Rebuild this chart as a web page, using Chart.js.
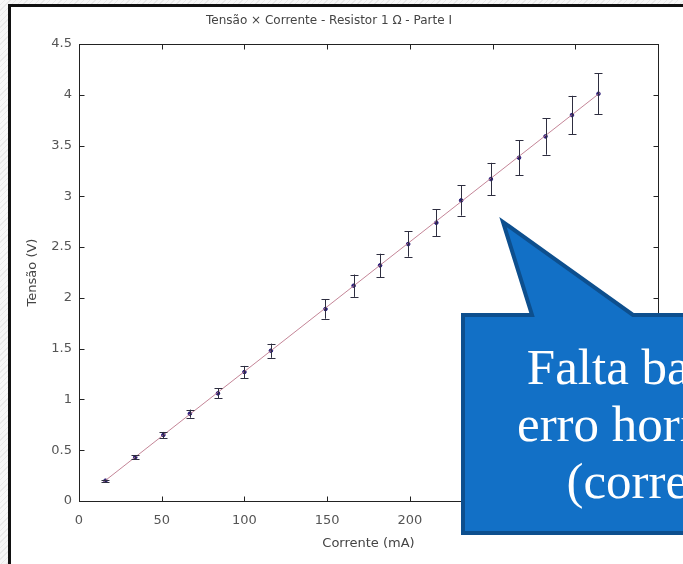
<!DOCTYPE html>
<html>
<head>
<meta charset="utf-8">
<script src="https://cdn.jsdelivr.net/npm/chart.js@4.4.0/dist/chart.umd.min.js"></script>
<style>
  html, body { margin: 0; padding: 0; }
  body {
    width: 683px; height: 564px; overflow: hidden; position: relative;
    background: repeating-linear-gradient(135deg, #f7f7f7 0 3px, #e9e9e9 3px 4px);
  }
  #frame {
    position: absolute; left: 8px; top: 4px; width: 700px; height: 600px;
    border-left: 3px solid #111; border-top: 3px solid #111; background: #fff;
  }
  #wrap { position: absolute; left: 0; top: 0; width: 683px; height: 564px; }
  #callout { position: absolute; left: 0; top: 0; width: 683px; height: 564px; pointer-events: none; }
  #calloutText {
    position: absolute; left: 517px; top: 339px; width: 300px;
    text-align: center; white-space: nowrap; color: #fff;
    font-family: "Liberation Serif", "DejaVu Serif", serif; font-size: 51px; line-height: 57px;
  }
</style>
</head>
<body>
<div id="frame"></div>
<div id="wrap"><canvas id="chart" width="683" height="564"></canvas></div>
<svg id="callout" width="683" height="564">
  <path d="M463 315 L532 315 L503 222 L633 315 L700 315 L700 533 L463 533 Z"
        fill="#1270c6" stroke="#0d4f8e" stroke-width="4" stroke-linejoin="miter"/>
</svg>
<div id="calloutText">Falta barra de<br>erro horizontal<br>(corrente)</div>
<script>
const corrente = [16, 34, 51, 67, 84, 100, 116, 149, 166, 182, 199, 216, 231, 249, 266, 282, 298, 314];
const tensao = [0.20, 0.43, 0.65, 0.86, 1.06, 1.27, 1.48, 1.89, 2.12, 2.32, 2.53, 2.74, 2.96, 3.17, 3.38, 3.59, 3.80, 4.01];
const erroTensao = [0.01, 0.02, 0.03, 0.04, 0.05, 0.06, 0.07, 0.095, 0.11, 0.115, 0.125, 0.135, 0.15, 0.16, 0.17, 0.18, 0.19, 0.2];

// Reta ajustada
const ajusteCorrente = [15, 315];
const ajusteTensao = [0.19, 4.02];

const xTicks = [0, 50, 100, 150, 200, 250, 300, 350];
const yTicks = [0, 0.5, 1, 1.5, 2, 2.5, 3, 3.5, 4, 4.5];

const tickFont = { family: 'DejaVu Sans, sans-serif', size: 13 };

// Barras de erro verticais
const errorBarsPlugin = {
    id: 'errorBars',
    afterDatasetsDraw: function(chart) {
        const ctx = chart.ctx;
        const xs = chart.scales.x, ys = chart.scales.y;
        ctx.save();
        ctx.strokeStyle = '#2e2e40';
        ctx.lineWidth = 1;
        corrente.forEach((c, i) => {
            const px = Math.round(xs.getPixelForValue(c)) + 0.5;
            const top = ys.getPixelForValue(tensao[i] + erroTensao[i]);
            const bot = ys.getPixelForValue(tensao[i] - erroTensao[i]);
            ctx.beginPath();
            ctx.moveTo(px, top); ctx.lineTo(px, bot);
            ctx.moveTo(px - 4, Math.round(top) + 0.5); ctx.lineTo(px + 4, Math.round(top) + 0.5);
            ctx.moveTo(px - 4, Math.round(bot) + 0.5); ctx.lineTo(px + 4, Math.round(bot) + 0.5);
            ctx.stroke();
        });
        ctx.restore();
    }
};

// Caixa estilo MATLAB com marcas para dentro
const boxPlugin = {
    id: 'matlabBox',
    afterDraw: function(chart) {
        const ctx = chart.ctx;
        const a = chart.chartArea;
        const xs = chart.scales.x, ys = chart.scales.y;
        ctx.save();
        ctx.strokeStyle = '#222';
        ctx.lineWidth = 1;
        const l = Math.round(a.left) + 0.5, r = Math.round(a.right) + 0.5;
        const t = Math.round(a.top) + 0.5, b = Math.round(a.bottom) + 0.5;
        ctx.strokeRect(l, t, r - l, b - t);
        ctx.beginPath();
        xTicks.forEach(v => {
            const px = Math.round(xs.getPixelForValue(v)) + 0.5;
            ctx.moveTo(px, b); ctx.lineTo(px, b - 5);
            ctx.moveTo(px, t); ctx.lineTo(px, t + 5);
        });
        yTicks.forEach(v => {
            const py = Math.round(ys.getPixelForValue(v)) + 0.5;
            ctx.moveTo(l, py); ctx.lineTo(l + 5, py);
            ctx.moveTo(r, py); ctx.lineTo(r - 5, py);
        });
        ctx.stroke();
        ctx.restore();
    }
};

const chart = new Chart(document.getElementById('chart').getContext('2d'), {
    type: 'scatter',
    data: {
        datasets: [
            {
                label: 'Ajuste',
                type: 'line',
                data: ajusteCorrente.map((c, i) => ({ x: c, y: ajusteTensao[i] })),
                borderColor: 'rgba(190, 120, 140, 0.9)',
                borderWidth: 1,
                pointRadius: 0,
                fill: false
            },
            {
                label: 'Medidas',
                data: corrente.map((c, i) => ({ x: c, y: tensao[i] })),
                backgroundColor: '#2a1d78',
                borderColor: '#2a1d78',
                pointRadius: 1.8,
                pointStyle: 'circle'
            }
        ]
    },
    options: {
        responsive: false,
        animation: false,
        layout: { padding: { left: 0, right: 25, top: 0, bottom: 0 } },
        plugins: {
            legend: { display: false },
            tooltip: { enabled: false },
            title: {
                display: true,
                text: 'Tensão × Corrente - Resistor 1 Ω - Parte I',
                color: '#444',
                font: { family: 'DejaVu Sans, sans-serif', size: 12, weight: 'normal' },
                padding: { top: 14, bottom: 15.6 }
            }
        },
        scales: {
            x: {
                type: 'linear',
                min: 0, max: 350,
                afterFit: s => { s.height = 63; },
                afterBuildTicks: s => { s.ticks = xTicks.map(v => ({ value: v })); },
                grid: { display: false, drawTicks: false },
                border: { display: false },
                ticks: { color: '#555', font: tickFont, padding: 12, maxRotation: 0, callback: v => String(v) },
                title: {
                    display: true, text: 'Corrente (mA)', color: '#444',
                    font: tickFont, padding: { top: 0, bottom: 13 }
                }
            },
            y: {
                type: 'linear',
                min: 0, max: 4.5,
                afterFit: s => { s.width = 79; },
                afterBuildTicks: s => { s.ticks = yTicks.map(v => ({ value: v })); },
                grid: { display: false, drawTicks: false },
                border: { display: false },
                ticks: { color: '#555', font: tickFont, padding: 7, callback: v => String(v) },
                title: {
                    display: true, text: 'Tensão (V)', color: '#444',
                    font: tickFont, padding: { top: 25, bottom: 0 }
                }
            }
        }
    },
    plugins: [errorBarsPlugin, boxPlugin]
});
</script>
</body>
</html>
